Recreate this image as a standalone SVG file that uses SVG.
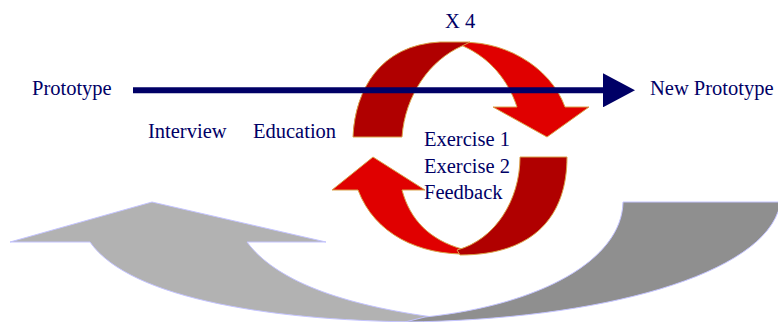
<svg xmlns="http://www.w3.org/2000/svg" width="778" height="322" viewBox="0 0 778 322">
<style>
  .lbl { font-family: "Liberation Serif", "Times New Roman", serif; font-size: 20.5px; fill: #000066; }
  .gl { fill: #b2b2b2; stroke: #c4c4ff; stroke-width: 1; stroke-linejoin: round; }
  .gd { fill: #8f8f8f; stroke: #c4c4ff; stroke-width: 1; stroke-linejoin: round; }
  .rd { fill: #b00000; stroke: #d9a24a; stroke-width: 1; stroke-linejoin: round; }
  .rb { fill: #e00000; stroke: #d9a24a; stroke-width: 1; stroke-linejoin: round; }
</style>
<defs>
  <marker id="navyHead" markerUnits="userSpaceOnUse" markerWidth="32" markerHeight="34" refX="0" refY="17" orient="auto" viewBox="0 0 32 34">
    <polygon points="0,0 32,17 0,34" fill="#000066"/>
  </marker>
</defs>
<rect width="778" height="322" fill="#ffffff"/>

<g id="gray-return">
  <path class="gl" d="M10,242 L152,202 L326,242 L247,242 C275,280 340,305 440,318 L430,322 C280,322 130,300 90,242 Z"/>
  <path class="gd" d="M623,202 L790,202 L790,205 L780,205 C765,275 600,320 405,322 L425,317 C540,305 622,260 623,202 Z"/>
</g>

<g id="cycle">
  <path class="rb" d="M455,43 C500,38 550,65 565,107 L589,107 L547,137 L493,107 L517,107 C508,80 490,58 463,46 Z"/>
  <path class="rd" d="M353,137 C355,90 380,45 440,42 L470,42 L462,46 C430,60 405,95 402,137 Z"/>
  <path class="rb" d="M332,190 L373,157 L425,190 L402,190 C410,220 430,240 462,249 L468,254 C420,255 375,235 358,190 Z"/>
  <path class="rd" d="M520,157 L567,157 C567,215 535,255 460,255 L457,250 C495,240 520,200 520,157 Z"/>
</g>

<g id="connectors">
  <line x1="133" y1="90.3" x2="603" y2="90.3" stroke="#000066" stroke-width="6" marker-end="url(#navyHead)"/>
</g>

<g id="prototype"><text class="lbl" x="32" y="95">Prototype</text></g>
<g id="new-prototype"><text class="lbl" x="650" y="95">New Prototype</text></g>
<g id="x4"><text class="lbl" x="445" y="28">X 4</text></g>
<g id="interview"><text class="lbl" x="148" y="138">Interview</text></g>
<g id="education"><text class="lbl" x="253" y="138">Education</text></g>
<g id="exercises">
  <text class="lbl" x="424" y="146">Exercise 1</text>
  <text class="lbl" x="424" y="172.5">Exercise 2</text>
  <text class="lbl" x="424" y="199">Feedback</text>
</g>
</svg>
